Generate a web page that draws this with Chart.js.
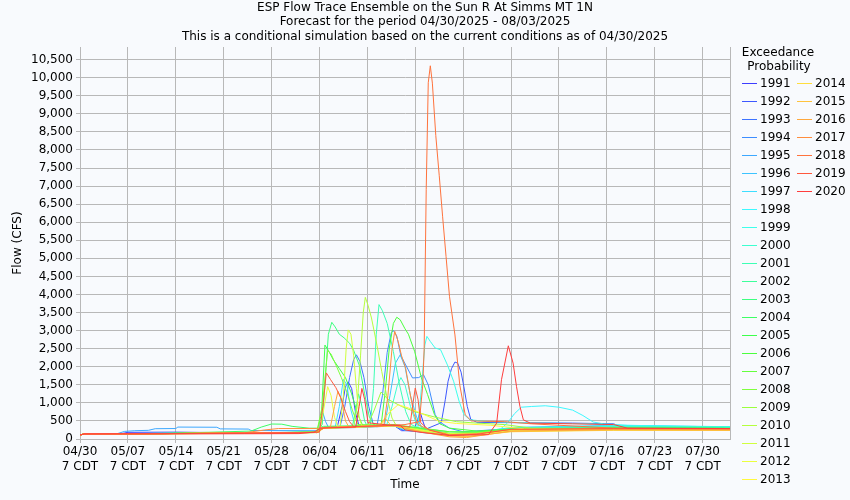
<!DOCTYPE html>
<html>
<head>
<meta charset="utf-8">
<script src="https://cdn.jsdelivr.net/npm/chart.js@4"></script>
<style>
  html, body { margin: 0; padding: 0; background: #f8fafd; }
</style>
</head>
<body>
<canvas id="chart" width="850" height="500"></canvas>
<script>
// Ensemble years (legend order)
const years = [1991,1992,1993,1994,1995,1996,1997,1998,1999,2000,2001,2002,2003,2004,2005,
               2006,2007,2008,2009,2010,2011,2012,2013,2014,2015,2016,2017,2018,2019,2020];

const START_DATE = Date.UTC(2025, 3, 30); // 04/30/2025
const TOTAL_DAYS = 95;                    // to 08/03/2025
const Y_MAX = 10850;

// tick positions
const xTickDays = [0, 7, 14, 21, 28, 35, 42, 49, 56, 63, 70, 77, 84, 91];
const yTickValues = [0,500,1000,1500,2000,2500,3000,3500,4000,4500,5000,5500,6000,6500,7000,7500,8000,8500,9000,9500,10000,10500];

// Traces: [day since 04/30, flow cfs]
const t1991 = [[0,110],[0.6,140],[6,145],[7,185],[14,190],[21,175],[28,170],[34.6,185],[35.6,300],[37.6,330],[38.3,900],[38.8,1450],[39.2,1580],[39.7,1400],[40.3,700],[40.8,350],[44,360],[46,360],[47,230],[48.8,230],[49.4,560],[49.7,760],[50.1,500],[50.6,230],[54,110],[58,150],[62,250],[70,300],[80,320],[95,320]];
const t1992 = [[0,110],[0.6,140],[10,150],[20,165],[34.6,180],[35.6,300],[41,320],[46,370],[47.2,250],[50,230],[52.8,450],[53.4,1100],[53.8,1600],[54.3,1950],[54.8,2130],[55.2,2100],[55.7,1850],[56.1,1450],[56.6,900],[57.1,550],[58,460],[65,450],[72,440],[78,420],[79,340],[95,320]];
const t1993 = [[0,110],[0.6,140],[12,155],[24,170],[34.6,185],[35.6,300],[38,330],[38.7,900],[39.4,1700],[40,2200],[40.4,2330],[40.9,2150],[41.5,1700],[42.2,900],[42.8,450],[43.3,340],[46,360],[47.3,240],[50,200],[54,110],[58,150],[63,300],[70,330],[80,340],[95,330]];
const t1994 = [[0,110],[0.6,140],[12,150],[24,165],[34.6,180],[35.6,300],[43.4,360],[44.2,1200],[44.9,2400],[45.5,2950],[45.8,3000],[46.3,2850],[46.9,2300],[47.6,2050],[48.6,1690],[49.5,1700],[50.2,1780],[50.9,1500],[51.9,680],[52.5,480],[54,300],[56,200],[60,250],[65,320],[78,360],[95,330]];
const t1995 = [[0,110],[0.6,140],[5.5,150],[6.5,210],[8,230],[10,240],[11,285],[14,290],[14.3,330],[20,325],[20.5,280],[24.6,275],[25,235],[34.6,230],[35.1,300],[35.5,720],[35.9,480],[36.3,330],[46,370],[47.3,260],[50,180],[54,100],[58,140],[63,290],[75,320],[95,310]];
const t1996 = [[0,110],[0.6,140],[12,160],[24,175],[34.6,190],[35.6,310],[44.5,380],[45.3,1200],[46.1,2100],[46.8,2330],[47.5,2000],[48.3,1200],[49.2,600],[50,300],[54,150],[58,180],[63,300],[78,350],[95,340]];
const t1997 = [[0,110],[0.6,140],[12,150],[24,170],[34.6,185],[35.6,300],[37.3,330],[37.9,900],[38.5,1650],[39,1500],[39.6,800],[40.2,380],[46,370],[47.4,280],[50,210],[54,120],[58,160],[63,320],[78,380],[95,340]];
const t1998 = [[0,110],[0.6,140],[12,150],[24,165],[34.6,180],[35.6,300],[46,360],[47.5,250],[50,200],[54,120],[58,180],[61.5,280],[62.5,450],[63.5,700],[64.5,880],[66,900],[68,920],[70,880],[72,800],[73.5,650],[75,470],[76.5,420],[80,380],[95,330]];
const t1999 = [[0,110],[0.6,140],[12,155],[24,170],[34.6,185],[35.6,300],[46,380],[47.5,320],[49.4,330],[49.9,1400],[50.4,2600],[50.7,2840],[51.2,2700],[51.9,2520],[52.7,2470],[53.7,2050],[54.6,1600],[55.4,1050],[56.1,680],[57,530],[60,480],[65,450],[75,420],[80,360],[95,330]];
const t2000 = [[0,110],[0.6,140],[12,150],[24,165],[34.6,180],[35.6,300],[44.8,370],[45.6,900],[46.4,1500],[46.9,1700],[47.5,1500],[48.3,900],[49.2,400],[51,250],[54,130],[58,170],[63,300],[78,350],[95,330]];
const t2001 = [[0,110],[0.6,140],[12,150],[24,170],[34.6,185],[35.6,300],[42.4,350],[42.9,1400],[43.3,2900],[43.7,3720],[44.2,3550],[44.9,3200],[45.8,2420],[46.7,1500],[47.6,760],[48.4,400],[50,260],[54,140],[58,170],[63,290],[78,330],[95,320]];
const t2002 = [[0,110],[0.6,140],[12,155],[24,170],[34.6,190],[35.6,310],[39.8,340],[40.3,800],[40.7,1250],[41.1,1000],[41.6,500],[42,340],[46,380],[47.6,300],[50,230],[54,130],[58,170],[63,280],[78,320],[95,300]];
const t2003 = [[0,110],[0.6,140],[12,150],[24,165],[34.6,190],[35.4,400],[35.9,1800],[36.3,2900],[36.8,3230],[37.3,3100],[37.9,2900],[38.6,2800],[39.4,2650],[40,2450],[40.8,2050],[41.6,1250],[42.3,600],[43,380],[46,380],[47.5,300],[50,220],[54,130],[58,160],[63,270],[78,310],[95,300]];
const t2004 = [[0,110],[0.6,140],[12,150],[25,220],[26.5,330],[28,415],[29.5,410],[31,350],[33.5,300],[34.8,300],[35.6,350],[46,390],[47.6,330],[50,290],[54,200],[58,200],[63,270],[78,300],[95,290]];
const t2005 = [[0,110],[0.6,140],[12,150],[24,165],[34.6,190],[35.3,700],[35.8,2600],[36.3,2450],[37,2200],[37.9,1950],[38.8,1700],[39.7,1250],[40.6,680],[41.3,380],[46,380],[47.6,320],[50,240],[54,150],[58,170],[63,260],[78,300],[95,290]];
const t2006 = [[0,110],[0.6,140],[12,150],[24,165],[34.6,185],[35.6,300],[44,370],[44.6,1300],[45.2,2500],[45.8,3200],[46.3,3370],[46.8,3300],[47.5,3050],[48,2900],[48.9,2430],[49.9,1690],[50.8,1230],[51.8,680],[52.6,420],[54,300],[58,220],[63,270],[78,300],[95,290]];
const t2007 = [[0,110],[0.6,140],[12,155],[24,170],[34.6,190],[35.6,320],[46,400],[47.8,350],[50,300],[54,200],[58,190],[63,260],[78,290],[95,280]];
const t2008 = [[0,110],[0.6,140],[12,150],[24,165],[34.6,190],[35.4,900],[36.2,2450],[36.7,2350],[37.4,2050],[38.2,1700],[39,1300],[39.8,800],[40.6,400],[46,380],[47.6,330],[50,260],[54,160],[58,170],[63,250],[78,280],[95,270]];
const t2009 = [[0,110],[0.6,140],[12,150],[24,165],[34.6,185],[35.6,310],[42,350],[43,800],[44,1300],[45,1100],[47,900],[49,750],[52,600],[55,480],[58,440],[62,400],[66,300],[78,280],[95,270]];
const t2010 = [[0,110],[0.6,140],[12,150],[24,165],[34.6,185],[35.6,300],[40,330],[40.5,900],[41,2300],[41.4,3500],[41.7,3920],[42.1,3700],[42.6,3350],[43.4,2600],[44.1,1870],[44.9,1130],[45.6,580],[46.2,380],[47.6,320],[50,250],[54,150],[58,160],[63,250],[78,270],[95,260]];
const t2011 = [[0,110],[0.6,140],[12,150],[24,160],[34.6,180],[35.6,300],[38,330],[38.5,1200],[38.9,2500],[39.2,3020],[39.6,2900],[40,2300],[40.4,1400],[40.8,600],[41.2,360],[46,370],[47.6,300],[50,230],[54,130],[58,140],[63,230],[78,260],[95,250]];
const t2012 = [[0,110],[0.6,140],[12,145],[24,160],[34.6,180],[35,190],[35.6,800],[36.2,1450],[36.7,1200],[37.2,600],[37.7,330],[46,370],[47.6,310],[50,240],[54,140],[58,140],[63,230],[78,260],[95,250]];
const t2013 = [[0,110],[0.6,140],[12,150],[24,160],[34.6,180],[35.6,300],[44,380],[45,700],[46.5,950],[48,860],[50,700],[52.5,490],[55,430],[60,380],[65,280],[78,260],[95,250]];
const t2014 = [[0,110],[0.6,140],[12,145],[24,155],[34.6,175],[35.6,290],[46,360],[47.6,280],[50,200],[54,90],[57,80],[63,200],[78,240],[95,240]];
const t2015 = [[0,110],[0.6,140],[12,145],[24,160],[34.6,180],[35.6,300],[43.8,380],[44.6,580],[45.4,380],[47.6,300],[50,200],[54,80],[57,70],[63,210],[78,250],[95,245]];
const t2016 = [[0,110],[0.6,140],[12,145],[24,160],[34.6,180],[35.6,300],[36.6,330],[37.2,900],[37.7,1320],[38.2,1100],[38.8,500],[39.3,330],[46,370],[47.6,290],[50,190],[54,60],[56.5,40],[63,220],[78,260],[95,250]];
const t2017 = [[0,110],[0.6,140],[12,150],[24,170],[27,250],[29,290],[34.6,290],[35.6,320],[44.4,370],[45,1200],[45.6,2500],[46,2980],[46.5,2700],[47,2300],[47.6,1960],[48.2,1300],[48.8,700],[49.4,400],[51,260],[54,120],[58,150],[63,260],[78,280],[95,270]];
const t2018 = [[0,110],[0.6,140],[12,150],[24,165],[34.6,185],[35.6,310],[46,380],[47.5,400],[49.6,480],[50.1,1500],[50.3,2500],[50.6,6900],[50.9,9860],[51.2,10330],[51.5,9850],[52,8400],[52.5,7300],[53,6150],[53.5,5050],[54,3950],[54.8,2880],[55.5,1500],[56.3,670],[57.2,500],[62,480],[66,420],[78,300],[95,280]];
const t2019 = [[0,110],[0.6,140],[12,150],[24,165],[34.6,185],[35,190],[35.5,900],[36,1830],[36.6,1650],[37.4,1420],[38.1,1150],[38.8,760],[39.4,480],[40,340],[46,380],[48.2,330],[48.6,900],[49,1410],[49.4,1100],[49.8,450],[51,250],[54,100],[58,130],[63,270],[78,290],[95,290]];
const t2020 = [[0,110],[0.6,140],[12,140],[24,145],[32,150],[34.2,190],[35.2,300],[40.3,330],[40.8,900],[41.2,1400],[41.6,1100],[42.1,450],[44.9,390],[46.8,380],[47.5,250],[50,180],[54,100],[59.7,120],[60.9,440],[61.6,1640],[62.6,2580],[63.3,2100],[63.8,1450],[64.3,900],[64.8,530],[65.8,440],[72,420],[78,400],[80,300],[95,290]];

const traces = [t1991,t1992,t1993,t1994,t1995,t1996,t1997,t1998,t1999,t2000,t2001,t2002,t2003,t2004,t2005,
                t2006,t2007,t2008,t2009,t2010,t2011,t2012,t2013,t2014,t2015,t2016,t2017,t2018,t2019,t2020];

const titleLines = [
  "ESP Flow Trace Ensemble on the Sun R At Simms MT 1N",
  "Forecast for the period 04/30/2025 - 08/03/2025",
  "This is a conditional simulation based on the current conditions as of 04/30/2025"
];

const FONT = '12px "DejaVu Sans"';
const GRID = '#b8b8b8';

// blue -> red ramp, same hue order as the legend
function lineColor(i) {
  const h = (240 - i * 240 / (years.length - 1)) / 360;
  const l = 0.62, s = 1;
  const q = l + s - l * s, p = 2 * l - q;
  const f = t => {
    if (t < 0) t += 1;
    if (t > 1) t -= 1;
    if (t < 1 / 6) return p + (q - p) * 6 * t;
    if (t < 1 / 2) return q;
    if (t < 2 / 3) return p + (q - p) * (2 / 3 - t) * 6;
    return p;
  };
  const hex = v => Math.round(v * 255).toString(16).padStart(2, '0');
  return '#' + hex(f(h + 1 / 3)) + hex(f(h)) + hex(f(h - 1 / 3));
}
const colors = years.map((y, i) => lineColor(i));

function dayLabel(d) {
  const dt = new Date(START_DATE + d * 86400000);
  const mm = String(dt.getUTCMonth() + 1).padStart(2, '0');
  const dd = String(dt.getUTCDate()).padStart(2, '0');
  return [mm + '/' + dd, '7 CDT'];
}

// titles, axis labels, legend and right border
const decorations = {
  id: 'decorations',
  beforeDraw(chart) {
    const ctx = chart.ctx;
    ctx.save();
    ctx.fillStyle = '#f8fafd';
    ctx.fillRect(0, 0, chart.width, chart.height);
    ctx.restore();
  },
  afterDraw(chart) {
    const ctx = chart.ctx;
    const a = chart.chartArea;
    ctx.save();
    ctx.strokeStyle = GRID;
    ctx.lineWidth = 1;
    ctx.beginPath();
    ctx.moveTo(a.right + 0.5, a.top);
    ctx.lineTo(a.right + 0.5, a.bottom);
    ctx.stroke();

    ctx.fillStyle = '#000';
    ctx.font = FONT;
    ctx.textBaseline = 'middle';
    ctx.textAlign = 'center';
    titleLines.forEach((t, i) => ctx.fillText(t, 425, 7.5 + i * 14.5));
    ctx.fillText('Time', (a.left + a.right) / 2, 485);
    ctx.save();
    ctx.translate(18, (a.top + a.bottom) / 2);
    ctx.rotate(-Math.PI / 2);
    ctx.fillText('Flow (CFS)', 0, 0);
    ctx.restore();

    // legend, two columns
    ctx.fillText('Exceedance', 778, 53);
    ctx.fillText('Probability', 779, 67);
    ctx.textAlign = 'left';
    years.forEach((yr, i) => {
      const col = i < 23 ? 0 : 1;
      const row = i < 23 ? i : i - 23;
      const x0 = col === 0 ? 742 : 797;
      const y = Math.round(82.7 + row * 18) + 0.5;
      ctx.strokeStyle = colors[i];
      ctx.lineWidth = 1;
      ctx.beginPath();
      ctx.moveTo(x0, y);
      ctx.lineTo(x0 + 15, y);
      ctx.stroke();
      ctx.fillStyle = '#000';
      ctx.fillText(String(yr), x0 + 18, y);
    });
    ctx.restore();
  }
};

const datasets = years.map((yr, i) => ({
  label: String(yr),
  data: traces[i].map(p => ({ x: p[0], y: p[1] })),
  borderColor: colors[i],
  borderWidth: 1,
  pointRadius: 0,
  tension: 0,
  fill: false,
  order: years.length - i
}));

new Chart(document.getElementById('chart'), {
  type: 'line',
  data: { datasets: datasets },
  options: {
    responsive: false,
    animation: false,
    devicePixelRatio: 1,
    layout: { padding: { top: 47, right: 120, left: 0, bottom: 0 } },
    plugins: {
      legend: { display: false },
      title: { display: false },
      tooltip: { enabled: false }
    },
    scales: {
      x: {
        type: 'linear',
        min: 0,
        max: TOTAL_DAYS,
        afterFit: s => { s.height = 61; },
        afterBuildTicks: s => { s.ticks = xTickDays.map(v => ({ value: v })); },
        ticks: {
          autoSkip: false,
          maxRotation: 0,
          padding: 2,
          color: '#000',
          font: { family: 'DejaVu Sans', size: 12 },
          callback: v => dayLabel(v)
        },
        grid: { color: GRID, tickLength: 4 },
        border: { color: GRID }
      },
      y: {
        min: 0,
        max: Y_MAX,
        afterFit: s => { s.width = 80; },
        afterBuildTicks: s => { s.ticks = yTickValues.map(v => ({ value: v })); },
        ticks: {
          autoSkip: false,
          padding: 3,
          color: '#000',
          font: { family: 'DejaVu Sans', size: 12 },
          callback: v => v.toLocaleString('en-US')
        },
        grid: { color: GRID, tickLength: 4 },
        border: { color: GRID }
      }
    }
  },
  plugins: [decorations]
});
</script>
</body>
</html>
